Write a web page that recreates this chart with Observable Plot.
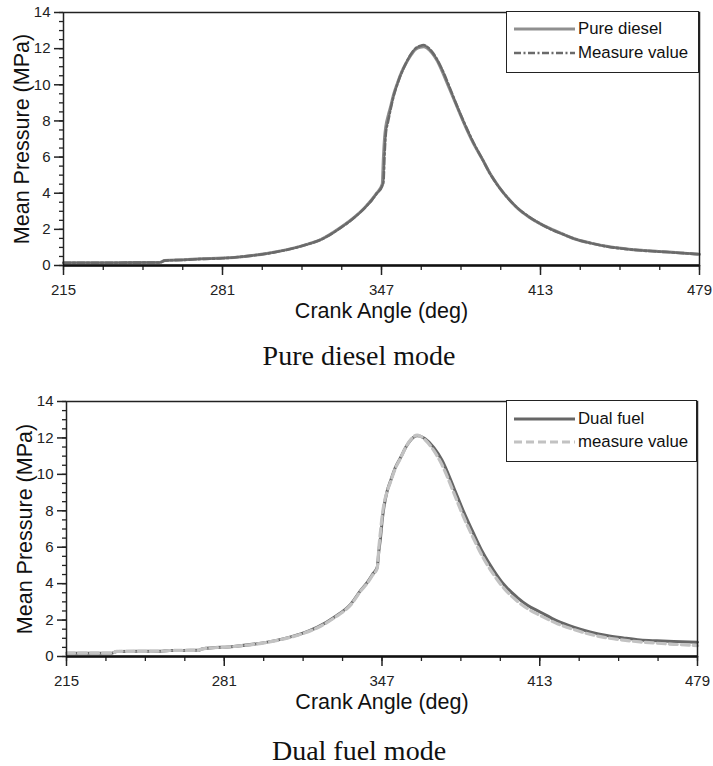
<!DOCTYPE html>
<html><head><meta charset="utf-8">
<script src="https://cdn.jsdelivr.net/npm/d3@7"></script>
<script src="https://cdn.jsdelivr.net/npm/@observablehq/plot@0.6"></script>
<style>
body{margin:0;background:#fff;}
#wrap{position:relative;width:713px;height:766px;font-family:"Liberation Sans",Arial,sans-serif;overflow:hidden;}
.chart{position:absolute;left:0;}
.cap{position:absolute;left:159px;width:400px;text-align:center;font-family:"Liberation Serif","Times New Roman",serif;font-size:28px;line-height:28px;color:#111;}
.leg{position:absolute;box-sizing:border-box;border:1.5px solid #222;background:#fff;}
.row{position:absolute;height:20px;display:flex;align-items:center;font-size:16.8px;color:#111;white-space:nowrap;}
.row svg{position:absolute;top:0;}
</style></head>
<body><div id="wrap"></div>
<script>
// ---- Axis ticks ----
const xTicks = [215, 281, 347, 413, 479];
const xMinorTicks = [215, 231.5, 248, 264.5, 281, 297.5, 314, 330.5, 347, 363.5, 380, 396.5, 413, 429.5, 446, 462.5, 479];
const yTicks = [0, 2, 4, 6, 8, 10, 12, 14];
const yMinorTicks = [0,0.5,1,1.5,2,2.5,3,3.5,4,4.5,5,5.5,6,6.5,7,7.5,8,8.5,9,9.5,10,10.5,11,11.5,12,12.5,13,13.5,14];

// ---- Pure diesel mode ----
const angleA = [215,230,245,255,257,265,272,281,290,300,310,316,322,330,336,340,343,345,347.3,347.8,348.3,348.8,349.7,350.7,352,353.5,355,357,359,361,363,364.5,366,368,370,372,375,378,381,385,389,392,396,400,404,408,413,418,423,427,434,441,448,455,462,469,475,479];
const pureDiesel = [0.15,0.15,0.16,0.17,0.28,0.32,0.37,0.41,0.5,0.68,0.95,1.17,1.45,2.1,2.7,3.2,3.65,4.0,4.5,6.0,7.1,7.7,8.25,8.75,9.45,10.05,10.6,11.15,11.6,11.95,12.08,12.1,12.02,11.75,11.35,10.8,9.85,8.9,7.95,6.8,5.85,5.1,4.3,3.65,3.1,2.7,2.3,1.98,1.7,1.48,1.24,1.05,0.93,0.84,0.78,0.72,0.66,0.62];
const measureDiesel = [0.15,0.15,0.16,0.17,0.27,0.31,0.36,0.4,0.5,0.67,0.94,1.16,1.44,2.08,2.68,3.18,3.62,3.98,4.4,4.6,6.2,7.3,7.95,8.6,9.35,10.0,10.55,11.15,11.65,12.0,12.15,12.2,12.1,11.82,11.42,10.9,9.95,8.95,8.0,6.85,5.85,5.1,4.3,3.65,3.12,2.72,2.3,1.96,1.69,1.48,1.23,1.04,0.92,0.83,0.77,0.71,0.66,0.62];

// ---- Dual fuel mode ----
const angleB = [215,234,236,255,258,270,272,285,299,306,313,320,327,334,338,341,343,345,345.7,346.4,347.1,347.8,349,350.6,352.5,354.8,357,358.5,360,361.7,363,365,368.7,372,377,381,385.4,389,393.8,398,403.5,408,413.3,420,427.2,434,441,448,455,462,469,479];
const dualFuel = [0.18,0.18,0.28,0.29,0.33,0.34,0.42,0.55,0.79,0.98,1.24,1.61,2.16,2.89,3.62,4.1,4.5,4.9,5.8,6.54,7.5,8.19,9.0,9.65,10.35,10.93,11.5,11.8,12.02,12.12,12.1,11.95,11.47,10.8,9.28,8.0,6.73,5.75,4.71,3.95,3.25,2.8,2.43,1.97,1.61,1.35,1.15,1.02,0.91,0.86,0.82,0.78];
const measureDual = [0.18,0.18,0.28,0.29,0.33,0.34,0.42,0.55,0.78,0.97,1.22,1.58,2.12,2.85,3.58,4.05,4.45,4.85,6.0,6.9,7.75,8.35,9.0,9.6,10.3,10.9,11.5,11.82,12.05,12.15,12.1,11.9,11.3,10.55,9.0,7.7,6.45,5.5,4.48,3.75,3.05,2.62,2.25,1.82,1.48,1.22,1.03,0.9,0.8,0.73,0.67,0.6];

const xLabel = "Crank Angle (deg)";
const yLabel = "Mean Pressure (MPa)";
const captions = ["Pure diesel mode", "Dual fuel mode"];

const ink = "#222";

function toRows(angles, values) { return angles.map((a, i) => ({a, p: values[i]})); }

function makeChart({m, series}) {
  return Plot.plot({
    width: 713, height: 325,
    marginTop: m.top, marginBottom: m.bottom, marginLeft: m.left, marginRight: m.right,
    style: {fontFamily: '"Liberation Sans", Arial, sans-serif', fontSize: "14.5px", color: ink, background: "white", overflow: "visible"},
    x: {domain: [215, 479]},
    y: {domain: [0, 14]},
    marks: [
      Plot.axisX({ticks: xMinorTicks, tickSize: 5, strokeWidth: 1.3, stroke: ink, fill: "none", label: null}),
      Plot.axisX({ticks: xTicks, tickSize: 10, tickPadding: 8.5, strokeWidth: 1.5, stroke: ink, fill: ink, fontSize: 15, label: null, tickFormat: d => String(d)}),
      Plot.axisY({ticks: yMinorTicks, tickSize: 4, strokeWidth: 1.3, stroke: ink, fill: "none", label: null}),
      Plot.axisY({ticks: yTicks, tickSize: 9, tickPadding: 4, strokeWidth: 1.5, stroke: ink, fill: ink, fontSize: 15, label: null}),
      ...series.map(s => Plot.line(toRows(s.angles, s.values), {x: "a", y: "p", stroke: s.color, strokeWidth: s.width, strokeDasharray: s.dash, curve: "monotone-x"})),
      Plot.frame({stroke: ink, strokeWidth: 1.5}),
      Plot.ruleY([0], {stroke: "#111", strokeWidth: 2.4}),
      Plot.text([xLabel], {text: d => d, frameAnchor: "bottom", textAnchor: "middle", dy: 46, lineAnchor: "middle", fontSize: 21.5, fill: "#111"}),
      Plot.text([yLabel], {text: d => d, frameAnchor: "left", textAnchor: "middle", rotate: -90, dx: -41, lineAnchor: "middle", fontSize: 21.5, fill: "#111"})
    ]
  });
}

const wrap = document.getElementById("wrap");

const seriesA = [
  {name: "Pure diesel", angles: angleA, values: pureDiesel, color: "#8f8f8f", width: 3, dash: null},
  {name: "Measure value", angles: angleA, values: measureDiesel, color: "#6a6a6a", width: 2.6, dash: "7,2.5,2,2.5"}
];
const seriesB = [
  {name: "Dual fuel", angles: angleB, values: dualFuel, color: "#666666", width: 3, dash: null},
  {name: "measure value", angles: angleB, values: measureDual, color: "#c2c2c2", width: 3.2, dash: "8,4"}
];

function addChart(top, m, series) {
  const d = document.createElement("div");
  d.className = "chart"; d.style.top = top + "px";
  d.appendChild(makeChart({m, series}));
  wrap.appendChild(d);
}
addChart(0, {top: 12, bottom: 60, left: 63, right: 14}, seriesA);
addChart(389, {top: 12, bottom: 58, left: 66, right: 16}, seriesB);

function addCaption(text, top) {
  const c = document.createElement("div");
  c.className = "cap"; c.style.top = top + "px"; c.textContent = text;
  wrap.appendChild(c);
}
addCaption(captions[0], 341.5);
addCaption(captions[1], 736.5);

function addLegend(box, series, rowsY) {
  const L = document.createElement("div");
  L.className = "leg";
  Object.assign(L.style, {left: box.left + "px", top: box.top + "px", width: box.w + "px", height: box.h + "px"});
  series.forEach((s, i) => {
    const r = document.createElement("div");
    r.className = "row";
    r.style.top = (rowsY[i] - 10) + "px";
    r.style.left = "0px";
    r.style.width = (box.w - 3) + "px";
    const svgNS = "http://www.w3.org/2000/svg";
    const sv = document.createElementNS(svgNS, "svg");
    sv.setAttribute("width", 62); sv.setAttribute("height", 20);
    sv.style.left = "7px";
    const ln = document.createElementNS(svgNS, "line");
    ln.setAttribute("x1", 0); ln.setAttribute("x2", 61); ln.setAttribute("y1", 10); ln.setAttribute("y2", 10);
    ln.setAttribute("stroke", s.color); ln.setAttribute("stroke-width", s.width);
    if (s.dash) ln.setAttribute("stroke-dasharray", s.dash);
    sv.appendChild(ln);
    r.appendChild(sv);
    const t = document.createElement("span");
    t.textContent = s.name;
    t.style.marginLeft = "71px";
    r.appendChild(t);
    L.appendChild(r);
  });
  wrap.appendChild(L);
}
addLegend({left: 506, top: 11, w: 193, h: 62}, seriesA, [17, 41]);
addLegend({left: 506, top: 400, w: 191, h: 62}, seriesB, [18, 41]);
</script></body></html>
